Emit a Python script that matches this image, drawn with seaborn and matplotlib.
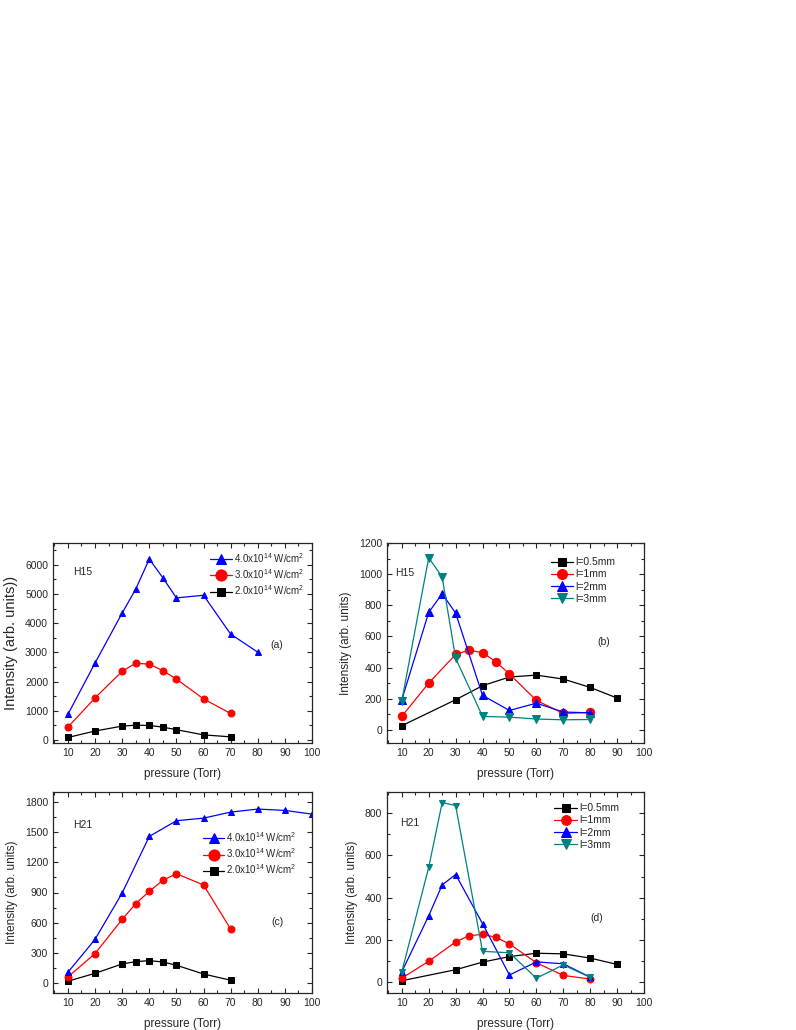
import matplotlib
matplotlib.use("Agg")
import matplotlib.pyplot as plt
from matplotlib.ticker import MultipleLocator
import seaborn as sns

sns.set_style("ticks")
plt.rcParams['font.family'] = ['Liberation Sans', 'DejaVu Sans']
plt.rcParams['mathtext.default'] = 'regular'

# Panel (a): H15 vs laser intensity
a_x_hi = [10, 20, 30, 35, 40, 45, 50, 60, 70, 80]
a_y_hi = [880, 2640, 4350, 5170, 6200, 5560, 4870, 4960, 3630, 3010]
a_x_mid = [10, 20, 30, 35, 40, 45, 50, 60, 70]
a_y_mid = [444, 1444, 2356, 2633, 2600, 2378, 2089, 1411, 911]
a_x_lo = [10, 20, 30, 35, 40, 45, 50, 60, 70]
a_y_lo = [89, 311, 478, 511, 500, 444, 356, 178, 111]

# Panel (b): H15 vs medium length
b_x_05 = [10, 30, 40, 50, 60, 70, 80, 90]
b_y_05 = [26, 193, 283, 339, 351, 326, 272, 204]
b_x_1 = [10, 20, 30, 35, 40, 45, 50, 60, 70, 80]
b_y_1 = [86, 300, 484, 512, 495, 437, 358, 189, 105, 111]
b_x_2 = [10, 20, 25, 30, 40, 50, 60, 70, 80]
b_y_2 = [193, 754, 874, 750, 221, 124, 171, 114, 109]
b_x_3 = [10, 20, 25, 30, 40, 50, 60, 70, 80]
b_y_3 = [186, 1106, 981, 459, 86, 81, 69, 64, 66]

# Panel (c): H21 vs laser intensity
c_x_hi = [10, 20, 30, 40, 50, 60, 70, 80, 90, 100]
c_y_hi = [106, 434, 895, 1458, 1614, 1640, 1700, 1730, 1717, 1680]
c_x_mid = [10, 20, 30, 35, 40, 45, 50, 60, 70]
c_y_mid = [60, 292, 633, 789, 911, 1021, 1087, 975, 537]
c_x_lo = [10, 20, 30, 35, 40, 45, 50, 60, 70]
c_y_lo = [17, 96, 189, 212, 222, 209, 176, 89, 27]

# Panel (d): H21 vs medium length
d_x_05 = [10, 30, 40, 50, 60, 70, 80, 90]
d_y_05 = [8, 60, 96, 122, 138, 135, 115, 85]
d_x_1 = [10, 20, 30, 35, 40, 45, 50, 60, 70, 80]
d_y_1 = [20, 100, 191, 221, 227, 213, 182, 93, 33, 16]
d_x_2 = [10, 20, 25, 30, 40, 50, 60, 70, 80]
d_y_2 = [50, 315, 461, 510, 278, 35, 97, 88, 25]
d_x_3 = [10, 20, 25, 30, 40, 50, 60, 70, 80]
d_y_3 = [50, 544, 850, 836, 147, 140, 20, 83, 24]

power_labels = [r'4.0x10$^{14}$ W/cm$^2$', r'3.0x10$^{14}$ W/cm$^2$', r'2.0x10$^{14}$ W/cm$^2$']
length_labels = ['l=0.5mm', 'l=1mm', 'l=2mm', 'l=3mm']

BLUE, RED, BLACK, TEAL = '#0000ff', '#ff0000', '#000000', '#008080'

fig = plt.figure(figsize=(7.96, 10.30), dpi=100)
W, H = 796, 1030


def add_ax(left, right, top, bottom):
    return fig.add_axes([left / W, 1 - bottom / H, (right - left) / W, (bottom - top) / H])


ax_a = add_ax(53, 312, 543, 743)
ax_b = add_ax(387, 644, 543, 743)
ax_c = add_ax(53, 312, 792, 993)
ax_d = add_ax(387, 644, 792, 993)


def draw(ax, x, y, color, marker, label, ms):
    sns.lineplot(x=x, y=y, ax=ax, color=color, marker=marker, markersize=ms,
                 markeredgecolor=color, linewidth=0.9, label=label, sort=False,
                 estimator=None)


def style(ax, ylim, ymaj, ylabel, ylabel_size=8.5):
    ax.set_xlim(4.5, 100)
    ax.set_ylim(*ylim)
    ax.xaxis.set_major_locator(MultipleLocator(10))
    ax.xaxis.set_minor_locator(MultipleLocator(5))
    ax.yaxis.set_major_locator(MultipleLocator(ymaj))
    ax.yaxis.set_minor_locator(MultipleLocator(ymaj / 2))
    ax.set_xticks(range(10, 101, 10))
    ax.tick_params(which='both', direction='in', top=True, right=True, labelsize=7.5, width=0.8)
    ax.tick_params(which='major', length=3.5)
    ax.tick_params(which='minor', length=2)
    for s in ax.spines.values():
        s.set_linewidth(0.9)
    ax.set_xlabel('pressure (Torr)', fontsize=8.5, labelpad=7)
    ax.set_ylabel(ylabel, fontsize=ylabel_size, labelpad=5)


# (a)
draw(ax_a, a_x_lo, a_y_lo, BLACK, 's', power_labels[2], 4)
draw(ax_a, a_x_mid, a_y_mid, RED, 'o', power_labels[1], 5)
draw(ax_a, a_x_hi, a_y_hi, BLUE, '^', power_labels[0], 4.5)
style(ax_a, (-100, 6750), 1000, 'Intensity (arb. units))', ylabel_size=10.5)
h, l = ax_a.get_legend_handles_labels()
ax_a.legend(h[::-1], l[::-1], loc='upper right', bbox_to_anchor=(1.0, 1.0), frameon=False,
            fontsize=7, markerscale=1.6, handlelength=2.2, handletextpad=0.2,
            labelspacing=0.25, borderaxespad=0.4)
ax_a.text(0.077, 0.855, 'H15', transform=ax_a.transAxes, fontsize=7.5, va='center')
ax_a.text(0.865, 0.49, '(a)', transform=ax_a.transAxes, fontsize=7.5, ha='center', va='center')

# (b)
draw(ax_b, b_x_05, b_y_05, BLACK, 's', length_labels[0], 5)
draw(ax_b, b_x_1, b_y_1, RED, 'o', length_labels[1], 6)
draw(ax_b, b_x_2, b_y_2, BLUE, '^', length_labels[2], 6)
draw(ax_b, b_x_3, b_y_3, TEAL, 'v', length_labels[3], 6)
style(ax_b, (-85, 1200), 200, 'Intensity (arb. units)')
ax_b.legend(loc='upper left', bbox_to_anchor=(0.6, 0.975), frameon=False, fontsize=7.5,
            markerscale=1.2, handlelength=2.2, handletextpad=0.2, labelspacing=0.2)
ax_b.text(0.03, 0.85, 'H15', transform=ax_b.transAxes, fontsize=7.5, va='center')
ax_b.text(0.845, 0.505, '(b)', transform=ax_b.transAxes, fontsize=7.5, ha='center', va='center')

# (c)
draw(ax_c, c_x_lo, c_y_lo, BLACK, 's', power_labels[2], 4)
draw(ax_c, c_x_mid, c_y_mid, RED, 'o', power_labels[1], 5)
draw(ax_c, c_x_hi, c_y_hi, BLUE, '^', power_labels[0], 4.5)
style(ax_c, (-100, 1900), 300, 'Intensity (arb. units)')
h, l = ax_c.get_legend_handles_labels()
ax_c.legend(h[::-1], l[::-1], loc='upper left', bbox_to_anchor=(0.545, 0.855), frameon=False,
            fontsize=7, markerscale=1.6, handlelength=2.2, handletextpad=0.2,
            labelspacing=0.25)
ax_c.text(0.077, 0.836, 'H21', transform=ax_c.transAxes, fontsize=7.5, va='center')
ax_c.text(0.865, 0.353, '(c)', transform=ax_c.transAxes, fontsize=7.5, ha='center', va='center')

# (d)
draw(ax_d, d_x_05, d_y_05, BLACK, 's', length_labels[0], 4)
draw(ax_d, d_x_1, d_y_1, RED, 'o', length_labels[1], 5)
draw(ax_d, d_x_2, d_y_2, BLUE, '^', length_labels[2], 5)
draw(ax_d, d_x_3, d_y_3, TEAL, 'v', length_labels[3], 5)
style(ax_d, (-50, 900), 200, 'Intensity (arb. units)')
ax_d.legend(loc='upper left', bbox_to_anchor=(0.615, 0.99), frameon=False, fontsize=7.5,
            markerscale=1.4, handlelength=2.2, handletextpad=0.2, labelspacing=0.2)
ax_d.text(0.05, 0.846, 'H21', transform=ax_d.transAxes, fontsize=7.5, va='center')
ax_d.text(0.817, 0.373, '(d)', transform=ax_d.transAxes, fontsize=7.5, ha='center', va='center')

fig.savefig('out.png', dpi=100)
